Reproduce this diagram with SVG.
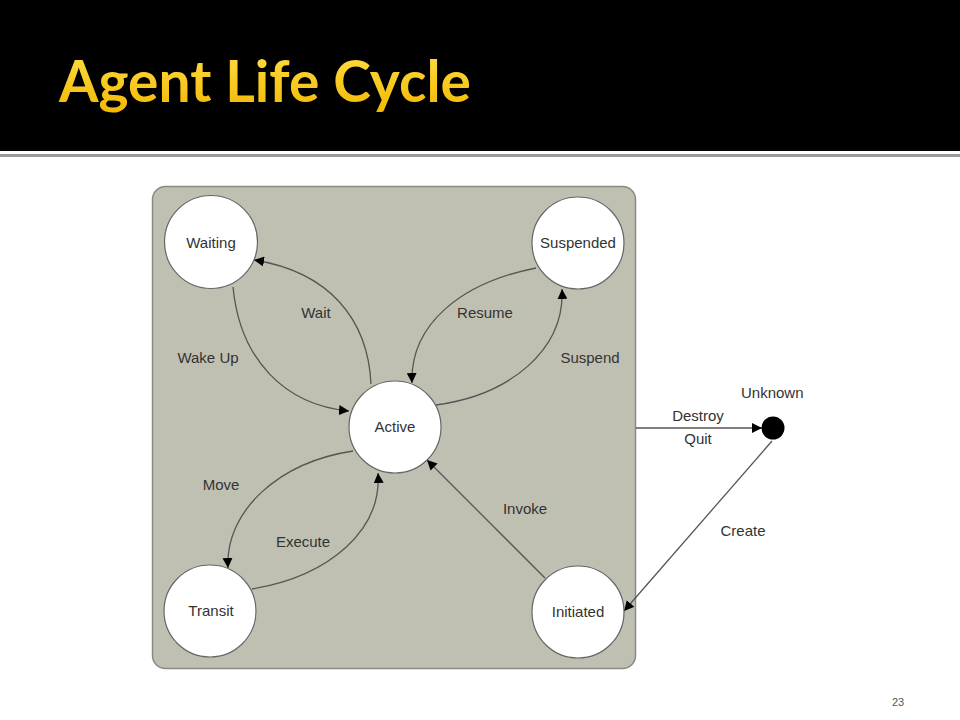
<svg xmlns="http://www.w3.org/2000/svg" width="960" height="720" viewBox="0 0 960 720">
<defs>
<style>
.lbl{font-family:"Liberation Sans",Arial,sans-serif;font-size:15px;fill:#333;text-anchor:middle}
.node{fill:#fff;stroke:#666;stroke-width:1.2}
.edge{fill:none;stroke:#555;stroke-width:1.3;marker-end:url(#arr)}
</style>
<marker id="arr" viewBox="0 0 10 10" refX="10" refY="5" markerWidth="10" markerHeight="10" markerUnits="userSpaceOnUse" orient="auto">
<path d="M0,0 L10,5 L0,10 Z" fill="#000"/>
</marker>
<linearGradient id="tg" x1="0" y1="0" x2="0" y2="1">
<stop offset="0" stop-color="#FFE04A"/>
<stop offset="1" stop-color="#F2B800"/>
</linearGradient>
<clipPath id="clipU"><rect x="700" y="370" width="108" height="40"/></clipPath>
</defs>
<rect x="0" y="0" width="960" height="720" fill="#fff"/>
<rect x="0" y="0" width="960" height="151" fill="#000"/>
<rect x="0" y="154" width="960" height="3" fill="#9a9a9a"/>
<text x="59" y="102" font-family="Lato,'Open Sans',sans-serif" font-weight="bold" font-size="58" fill="url(#tg)" textLength="412" lengthAdjust="spacingAndGlyphs">Agent Life Cycle</text>
<rect id="panel" x="152.5" y="186.5" width="483" height="482" rx="13" fill="#C0C0B2" stroke="#8a8a82" stroke-width="1.5"/>
<g id="connectors">
<path class="edge" d="M371,384 C368,320 330,272 254,260"/>
<path class="edge" d="M233,287 C240,360 285,405 349,411"/>
<path class="edge" d="M536,268 C460,283 410,325 412,383"/>
<path class="edge" d="M436,405 C510,395 565,350 562,289"/>
<path class="edge" d="M353,451 C280,462 225,510 228,568"/>
<path class="edge" d="M252,589 C330,576 382,530 378,473"/>
<path class="edge" d="M545,578 L427,460"/>
<path class="edge" d="M636,428 L762,428"/>
<path class="edge" d="M772,441 L624,611"/>
</g>
<g id="labels">
<text class="lbl" x="316" y="318">Wait</text>
<text class="lbl" x="208" y="363">Wake Up</text>
<text class="lbl" x="485" y="318">Resume</text>
<text class="lbl" x="590" y="363">Suspend</text>
<text class="lbl" x="221" y="490">Move</text>
<text class="lbl" x="303" y="547">Execute</text>
<text class="lbl" x="525" y="514">Invoke</text>
<text class="lbl" x="698" y="421">Destroy</text>
<text class="lbl" x="698" y="444">Quit</text>
<text class="lbl" x="743" y="536">Create</text>
</g>
<g id="waiting"><circle class="node" cx="211" cy="242" r="46.5"/><text class="lbl" x="211" y="248">Waiting</text></g>
<g id="suspended"><circle class="node" cx="578" cy="243" r="46"/><text class="lbl" x="578" y="248">Suspended</text></g>
<g id="active"><circle class="node" cx="395" cy="427" r="46"/><text class="lbl" x="395" y="432">Active</text></g>
<g id="transit"><circle class="node" cx="210" cy="611" r="46"/><text class="lbl" x="211" y="616">Transit</text></g>
<g id="initiated"><circle class="node" cx="578" cy="612" r="46"/><text class="lbl" x="578" y="617">Initiated</text></g>
<g id="unknown"><circle cx="773" cy="428" r="11.5" fill="#000"/><text class="lbl" x="741" y="398" style="text-anchor:start" clip-path="url(#clipU)">Unknown</text></g>
<text x="898" y="706" font-family="'Liberation Sans',Arial,sans-serif" font-size="11" fill="#555" text-anchor="middle">23</text>
</svg>
